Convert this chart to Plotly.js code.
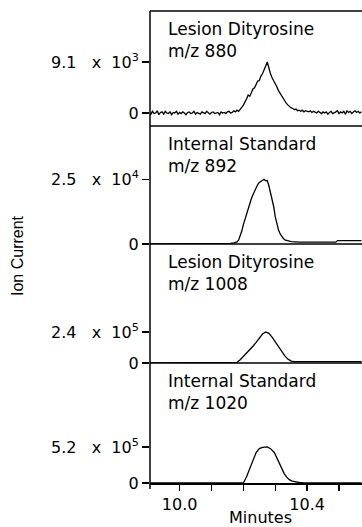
<!DOCTYPE html>
<html>
<head>
<meta charset="utf-8">
<script src="https://cdn.plot.ly/plotly-3.0.1.min.js"></script>
<style>
html,body{margin:0;padding:0;background:#fff;}
#chart{width:362px;height:527px;}
</style>
</head>
<body>
<div id="chart"></div>
<script>
// ---- DATA ----
// Panel 1: Lesion Dityrosine m/z 880 (units of 10^3)
const time880 = [
  9.905,9.910,9.915,9.920,9.925,9.930,9.935,9.940,9.945,9.950,
  9.955,9.960,9.965,9.970,9.975,9.980,9.985,9.990,9.995,10.000,
  10.005,10.010,10.015,10.020,10.025,10.030,10.035,10.040,10.045,10.050,
  10.055,10.060,10.065,10.070,10.075,10.080,10.085,10.090,10.095,10.100,
  10.105,10.110,10.115,10.120,10.125,10.130,10.135,10.140,10.145,10.150,
  10.155,10.160,10.165,10.170,10.175,10.180,10.185,10.190,10.195,10.200,
  10.205,10.210,10.215,10.220,10.225,10.230,10.235,10.240,10.245,10.250,
  10.255,10.260,10.265,10.270,10.275,10.280,10.285,10.290,10.295,10.300,
  10.305,10.310,10.315,10.320,10.325,10.330,10.335,10.340,10.345,10.350,
  10.355,10.360,10.365,10.370,10.375,10.380,10.385,10.390,10.395,10.400,
  10.405,10.410,10.415,10.420,10.425,10.430,10.435,10.440,10.445,10.450,
  10.455,10.460,10.465,10.470,10.475,10.480,10.485,10.490,10.495,10.500,
  10.505,10.510,10.515,10.520,10.525,10.530,10.535,10.540,10.545,10.550,
  10.555,10.560,10.565,10.570
];
const ion880 = [
  0.1,-0.2,0.3,-0.1,0.0,0.4,-0.3,0.1,0.2,-0.2,
  0.3,0.0,-0.1,0.2,-0.3,0.1,0.0,0.3,-0.2,0.1,
  -0.1,0.2,0.0,-0.3,0.1,0.2,-0.1,0.0,0.3,-0.2,
  0.1,0.0,-0.2,0.2,0.1,-0.1,0.3,0.0,-0.2,0.1,
  0.2,-0.1,0.0,0.1,-0.3,0.2,0.0,0.1,-0.1,0.2,
  0.3,0.0,0.1,0.4,0.2,0.5,0.3,0.6,1.0,1.4,
  1.9,2.5,3.2,3.0,3.6,4.3,4.5,5.0,5.7,5.8,
  6.6,7.0,7.9,8.4,9.1,7.9,7.0,6.3,5.8,5.3,
  4.7,4.0,3.5,3.0,2.5,2.1,1.7,1.4,1.1,0.9,
  0.8,0.6,0.7,0.4,0.5,0.3,0.5,0.2,0.4,0.3,
  0.2,0.4,0.1,0.3,0.2,0.0,0.3,0.1,-0.1,0.2,
  0.0,0.2,-0.2,0.1,0.3,-0.1,0.0,0.2,0.4,-0.1,
  0.2,0.0,0.3,-0.2,0.4,0.1,0.3,-0.1,0.2,0.4,
  0.1,0.3,0.0,0.2
];

// Panel 2: Internal Standard m/z 892 (units of 10^4)
const time892 = [9.905,10.150,10.160,10.170,10.180,10.185,10.190,10.195,10.200,10.205,10.210,10.215,10.220,10.225,10.230,10.235,10.240,10.245,10.250,10.255,10.260,10.265,10.270,10.275,10.280,10.285,10.290,10.295,10.300,10.305,10.310,10.315,10.320,10.325,10.330,10.340,10.350,10.375,10.490,10.495,10.570];
const ion892  = [0.00,0.00,0.02,0.04,0.08,0.15,0.30,0.50,0.75,0.95,1.15,1.40,1.62,1.75,1.90,2.05,2.15,2.30,2.38,2.42,2.48,2.50,2.44,2.45,2.25,2.00,1.70,1.45,1.05,0.75,0.55,0.40,0.30,0.22,0.16,0.12,0.09,0.07,0.07,0.13,0.13];

// Panel 3: Lesion Dityrosine m/z 1008 (units of 10^5)
const time1008 = [9.905,10.170,10.180,10.190,10.200,10.210,10.220,10.230,10.240,10.250,10.260,10.270,10.280,10.290,10.300,10.310,10.320,10.330,10.340,10.350,10.360,10.570];
const ion1008  = [0,0,0.05,0.25,0.50,0.75,1.00,1.30,1.60,1.95,2.25,2.40,2.30,2.00,1.65,1.25,0.90,0.55,0.30,0.15,0.10,0.10];

// Panel 4: Internal Standard m/z 1020 (units of 10^5)
const time1020 = [9.905,10.200,10.210,10.220,10.230,10.240,10.250,10.260,10.275,10.285,10.297,10.305,10.3125,10.320,10.328,10.336,10.344,10.353,10.3625,10.375,10.390,10.410,10.570];
const ion1020  = [0,0,0.9,2.1,3.4,4.4,4.95,5.15,5.2,4.95,4.4,3.6,2.8,2.05,1.36,0.85,0.49,0.28,0.15,0.07,0.03,0,0];

// Labels
const panelLine1 = ["Lesion Dityrosine","Internal Standard","Lesion Dityrosine","Internal Standard"];
const panelLine2 = ["m/z 880","m/z 892","m/z 1008","m/z 1020"];
const yTickValues = [9.1, 2.5, 2.4, 5.2];
const yTickMant  = ["9.1","2.5","2.4","5.2"];
const yTickExp   = ["3","4","5","5"];
const xTickVals  = [10.0, 10.4];
const xTickText  = ["10.0","10.4"];
const xMinorStep = 0.1;

// ---- LAYOUT HELPERS ----
const H = 527, T = 11, B = 44;
const plotH = H - T - B;           // 472
const pY = py => (H - B - py) / plotH;   // pixel y -> paper y
const panelTopPx = [11, 126, 244, 363];
const panelBotPx = [126, 244, 363, 483];
const ranges = [[-2.32, 18.2],[0, 4.56],[0, 9.23],[0, 17.3]];

const font = "DejaVu Sans, sans-serif";
const black = "#000";
const nb = "\u00a0";

const series = [[time880, ion880],[time892, ion892],[time1008, ion1008],[time1020, ion1020]];
const traces = series.map((s, i) => ({
  x: s[0], y: s[1], type: "scatter", mode: "lines",
  xaxis: "x", yaxis: i === 0 ? "y" : "y" + (i + 1),
  line: {color: black, width: 1.3},
  hoverinfo: "skip"
}));

const layout = {
  width: 362, height: 527,
  margin: {l: 150, r: 0, t: T, b: B},
  paper_bgcolor: "#fff", plot_bgcolor: "#fff",
  showlegend: false,
  font: {family: font, color: black},
  xaxis: {
    range: [9.9072, 10.572], anchor: "y4",
    tickvals: xTickVals, ticktext: xTickText,
    ticks: "outside", ticklen: 6, tickwidth: 1.5, tickcolor: black,
    minor: {tick0: 10.0, dtick: xMinorStep, ticks: "outside", ticklen: 6, tickwidth: 1.5, tickcolor: black, showgrid: false},
    showline: true, linewidth: 1.5, linecolor: black,
    showgrid: false, zeroline: false,
    tickfont: {family: font, size: 16, color: black}
  },
  shapes: [],
  annotations: []
};

for (let i = 0; i < 4; i++) {
  const key = i === 0 ? "yaxis" : "yaxis" + (i + 1);
  layout[key] = {
    domain: [pY(panelBotPx[i]), pY(panelTopPx[i])],
    range: ranges[i], anchor: "x",
    tickvals: [0, yTickValues[i]],
    ticktext: ["0", yTickMant[i] + nb + nb + nb + "x" + nb + nb + "10<sup>" + yTickExp[i] + "</sup>"],
    ticks: "outside", ticklen: 7, tickwidth: 1.5, tickcolor: black,
    showline: false, showgrid: false, zeroline: false,
    tickfont: {family: font, size: 16, color: black}
  };
  layout.shapes.push({type: "line", xref: "paper", yref: "paper",
    x0: 0, x1: 1, y0: pY(panelTopPx[i]), y1: pY(panelTopPx[i]),
    line: {color: black, width: 1.5}});
  layout.annotations.push({xref: "paper", yref: "paper", x: (166 - 150) / 212, y: pY(panelTopPx[i] + 18),
    xanchor: "left", yanchor: "middle", showarrow: false, text: panelLine1[i],
    font: {family: font, size: 17, color: black}});
  layout.annotations.push({xref: "paper", yref: "paper", x: (166 - 150) / 212, y: pY(panelTopPx[i] + 40),
    xanchor: "left", yanchor: "middle", showarrow: false, text: panelLine2[i],
    font: {family: font, size: 17, color: black}});
}
// left frame (extends down to form the first tick)
layout.shapes.push({type: "line", xref: "paper", yref: "paper", x0: 0, x1: 0, y0: pY(489), y1: 1,
  line: {color: black, width: 1.5}});

layout.annotations.push({xref: "paper", yref: "paper", x: (260 - 150) / 212, y: pY(517),
  xanchor: "center", yanchor: "middle", showarrow: false, text: "Minutes",
  font: {family: font, size: 16, color: black}});
layout.annotations.push({xref: "paper", yref: "paper", x: (17 - 150) / 212, y: pY(256),
  xanchor: "center", yanchor: "middle", showarrow: false, text: "Ion Current", textangle: -90,
  font: {family: "Liberation Sans, Arial, sans-serif", size: 16, color: black}});

Plotly.newPlot("chart", traces, layout, {staticPlot: true, displayModeBar: false});
</script>
</body>
</html>
